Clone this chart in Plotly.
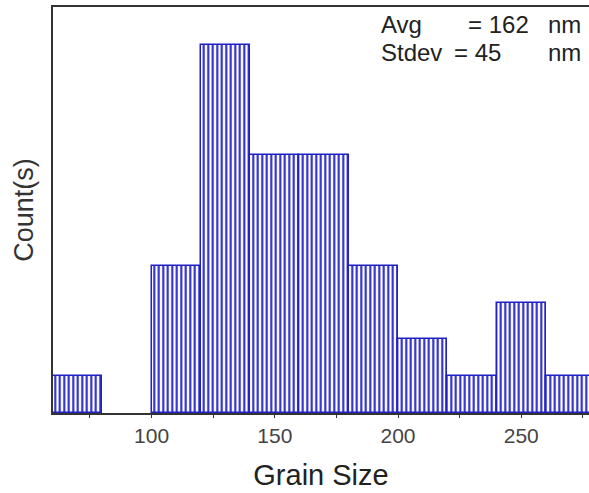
import plotly.graph_objects as go

# Grain size histogram: bins of 20 nm
bin_left = [60, 80, 100, 120, 140, 160, 180, 200, 220, 240, 260]
counts = [1, 0, 4, 10, 7, 7, 4, 2, 1, 3, 1]
bin_width = 20
x_ticks = [100, 150, 200, 250]
x_minor_ticks = [75, 125, 175, 225, 275]
avg_nm = 162
stdev_nm = 45

centers = [b + bin_width / 2 for b in bin_left]
blue = "rgb(32,32,195)"
text_font = "Liberation Sans, Arial, sans-serif"

fig = go.Figure(
    go.Bar(
        x=centers,
        y=counts,
        width=[bin_width] * len(centers),
        marker=dict(
            color="white",
            # empty bins get no outline so nothing is drawn over the axis
            line=dict(color=blue, width=[0 if c == 0 else 1.5 for c in counts]),
            pattern=dict(shape="|", size=4.5, solidity=0.45,
                         fgcolor=blue, bgcolor="white", fillmode="replace"),
        ),
        showlegend=False,
    )
)

fig.update_layout(
    width=589,
    height=493,
    margin=dict(l=53, r=0, t=7, b=80),
    paper_bgcolor="white",
    plot_bgcolor="white",
    bargap=0,
    font=dict(family=text_font, color="#333"),
    xaxis=dict(
        range=[60, 277.5],
        tickvals=x_ticks,
        ticks="outside",
        ticklen=3,
        tickwidth=1,
        tickcolor="#333",
        minor=dict(tickvals=x_minor_ticks, ticks="outside",
                   ticklen=3, tickcolor="#333"),
        tickfont=dict(size=21, color="#444"),
        showline=True,
        linecolor="#333",
        linewidth=1.5,
        mirror=True,
        showgrid=False,
        zeroline=False,
        title=dict(text="Grain Size", font=dict(size=29, color="#222"), standoff=19),
    ),
    yaxis=dict(
        range=[0, 11.03],
        showticklabels=False,
        ticks="",
        showline=True,
        linecolor="#333",
        linewidth=1.5,
        showgrid=False,
        zeroline=False,
        title=dict(text="Count(s)", font=dict(size=27, color="#333"), standoff=10),
    ),
)

# Summary statistics, laid out in columns (x positions in paper units)
ann_font = dict(family=text_font, size=24, color="#222")
rows = [
    (0.9557, [("Avg", 0.6101), ("= %d" % avg_nm, 0.7724), ("nm", 0.9216)]),
    (0.8867, [("Stdev", 0.6101), ("= %d" % stdev_nm, 0.7463), ("nm", 0.9216)]),
]
for ypos, pieces in rows:
    for text, xpos in pieces:
        fig.add_annotation(xref="paper", yref="paper", x=xpos, y=ypos, text=text,
                           showarrow=False, xanchor="left", yanchor="middle",
                           borderpad=0, font=ann_font)

fig.write_html("out.html")
